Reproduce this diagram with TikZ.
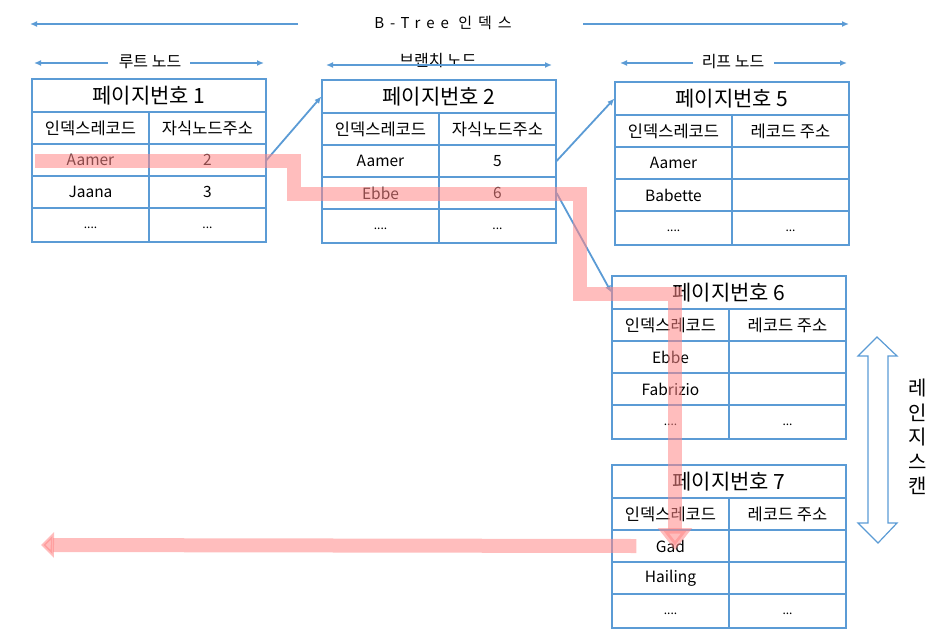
\documentclass[tikz,border=0pt]{standalone}
\usepackage{fontspec}
\setmainfont{Noto Sans CJK KR}
\newfontfamily\espaciada[LetterSpace=40]{Noto Sans CJK KR}
\usetikzlibrary{arrows.meta}

\definecolor{azul}{RGB}{91,155,213}
\definecolor{rosa}{RGB}{255,135,135}

\begin{document}
\begin{tikzpicture}[x=1pt,y=-1pt,
  celda/.style={draw=azul, line width=1.2pt, minimum width=117pt, inner sep=0pt},
  flecha/.style={azul, line width=1.8pt, -{Latex[length=7pt,width=6pt]}},
  doble/.style={azul, line width=1.8pt, {Latex[length=7pt,width=6pt]}-{Latex[length=7pt,width=6pt]}},
  marca/.style={rosa, opacity=0.55, line width=14pt}]
  \useasboundingbox (0,0) rectangle (946,641);

  % Etiquetas superiores
  \node[font=\espaciada\fontsize{15}{18}\selectfont] (btree) at (443,23) {B-Tree 인덱스};
  \draw[flecha] (btree.center) ++(-145,1) -- (30,24);
  \draw[flecha] (btree.center) ++(140,1) -- (849,24);
  \node[font=\fontsize{16}{19}\selectfont] (raiz) at (150,62) {루트 노드};
  \draw[flecha] (raiz.center) ++(-42,1) -- (34,63);
  \draw[flecha] (raiz.center) ++(40,1) -- (264,63);
  \node[font=\fontsize{16}{19}\selectfont] (rama) at (438,61) {브랜치 노드};
  \draw[doble] (rama.center) ++(-112,4) -- ++(226,0);
  \node[font=\fontsize{16}{19}\selectfont] (hoja) at (733,62) {리프 노드};
  \draw[flecha] (hoja.center) ++(-40,1) -- (620,63);
  \draw[flecha] (hoja.center) ++(41,1) -- (847,63);

  % Tablas de páginas
  \foreach \n/\num/\x/\y/\cab/\a/\b/\c/\d in {p1/1/32/79/자식노드주소/Aamer/2/Jaana/3,
      p2/2/322/80/자식노드주소/Aamer/5/Ebbe/6, p5/5/615/82/레코드 주소/Aamer/{}/Babette/{},
      p6/6/612/276/레코드 주소/Ebbe/{}/Fabrizio/{}, p7/7/612/465/레코드 주소/Gad/{}/Hailing/{}} {
    \node[celda, minimum width=234pt, minimum height=33pt, font=\fontsize{21}{25}\selectfont]
      (\n-tit) at (\x+117,\y+16.5) {페이지번호 \num};
    \node[celda, minimum height=32pt, font=\fontsize{16.5}{20}\selectfont] (\n-ha) at (\x+58.5,\y+49) {인덱스레코드};
    \node[celda, minimum height=32pt, font=\fontsize{16.5}{20}\selectfont] (\n-hb) at (\x+175.5,\y+49) {\cab};
    \node[celda, minimum height=32pt, font=\fontsize{15.5}{19}\selectfont] (\n-a1) at (\x+58.5,\y+81) {\a};
    \node[celda, minimum height=32pt, font=\fontsize{15.5}{19}\selectfont] (\n-b1) at (\x+175.5,\y+81) {\b};
    \node[celda, minimum height=32pt, font=\fontsize{15.5}{19}\selectfont] (\n-a2) at (\x+58.5,\y+113) {\c};
    \node[celda, minimum height=32pt, font=\fontsize{15.5}{19}\selectfont] (\n-b2) at (\x+175.5,\y+113) {\d};
    \node[celda, minimum height=34pt] (\n-a3) at (\x+58.5,\y+146) {};
    \node[celda, minimum height=34pt] (\n-b3) at (\x+175.5,\y+146) {};
    \node[font=\fontsize{12}{14}\selectfont] at ([yshift=-3pt]\n-a3.center) {....};
    \node[font=\fontsize{12}{14}\selectfont] at ([yshift=-3pt]\n-b3.center) {...};
  }

  % Punteros entre nodos
  \draw[flecha] (p1-b1.east) -- (p2-tit.west);
  \draw[flecha] (p2-b1.east) -- (p5-tit.west);
  \draw[flecha] (p2-b2.east) -- (p6-tit.west);

  % Camino de búsqueda
  \draw[marca, -{Triangle[width=33pt,length=22pt]}] (35,161) -- (294,161) -- (294,194)
    -- (580,194) -- (580,294) -- (675,294) -- (675,550);
  \coordinate (fin) at (41,545);
  \draw[marca, -{Triangle[width=25pt,length=13pt]}] ([xshift=25pt]p7-a1.west) -- (fin);

  % Recorrido de rango
  \draw[azul, line width=1.2pt] (877,337) -- (897,356) -- (888,356) -- (888,523) -- (897,523)
    -- (878,543) -- (858,523) -- (868,523) -- (868,356) -- (858,356) -- cycle;
  \node[align=center, font=\fontsize{20}{24.5}\selectfont] (rango) at (918,437) {레\\인\\지\\스\\캔};
\end{tikzpicture}
\end{document}
